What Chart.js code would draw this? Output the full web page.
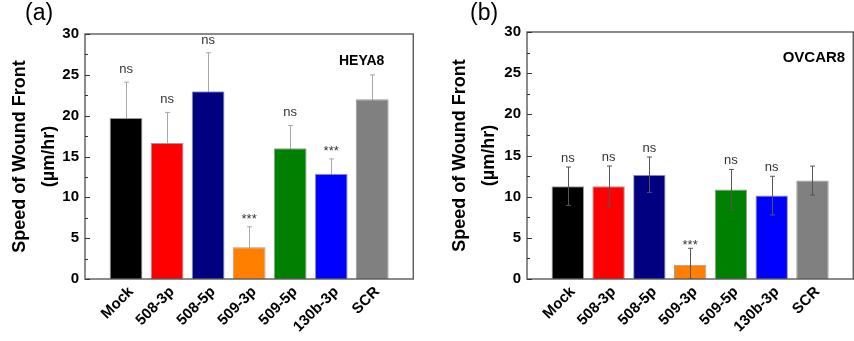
<!DOCTYPE html>
<html><head><meta charset="utf-8">
<script src="https://cdn.jsdelivr.net/npm/chart.js@4/dist/chart.umd.min.js"></script>
<style>
html,body{margin:0;padding:0;background:#fff;overflow:hidden;width:854px;height:341px;}
#wrapA{position:absolute;left:0;top:0;width:430px;height:341px;}
#wrapB{position:absolute;left:430px;top:0;width:440px;height:341px;}
canvas{display:block;}
</style></head><body>
<div id="wrapA"><canvas id="cA" width="430" height="341"></canvas></div>
<div id="wrapB"><canvas id="cB" width="440" height="341"></canvas></div>
<script>
const categories = ['Mock','508-3p','508-5p','509-3p','509-5p','130b-3p','SCR'];
const barColors = ['#000000','#ff0000','#000080','#ff8000','#008000','#0000ff','#808080'];
const heya8Speed = [19.7, 16.65, 23.0, 3.9, 16.0, 12.9, 22.0];
const heya8Error = [4.4, 3.75, 4.7, 2.5, 2.8, 1.8, 3.0];
const heya8Sig = ['ns','ns','ns','***','ns','***',''];
const ovcar8Speed = [11.27, 11.27, 12.67, 1.73, 10.86, 10.13, 11.95];
const ovcar8Error = [2.33, 2.45, 2.15, 2.0, 2.45, 2.35, 1.76];
const ovcar8Sig = ['ns','ns','ns','***','ns','ns',''];
const yMin = 0, yMax = 30, yStep = 5, yMinorStep = 2.5;
const yTitle = ['Speed of Wound Front', '(\u00b5m/hr)'];

const FONT = "'Liberation Sans', Arial, sans-serif";

function drawErrors(chart, o) {
  const ctx = chart.ctx, ys = chart.scales.y, xs = chart.scales.x, a = chart.chartArea;
  ctx.save();
  ctx.beginPath(); ctx.rect(a.left, a.top - 20, a.right - a.left, a.bottom - a.top + 20); ctx.clip();
  ctx.strokeStyle = o.errColor; ctx.lineWidth = 1;
  o.values.forEach((v, i) => {
    const x = Math.round(xs.getPixelForValue(i + 1)) + 0.5;
    const yt = ys.getPixelForValue(v + o.errors[i]);
    const yb = ys.getPixelForValue(Math.max(0, v - o.errors[i]));
    ctx.beginPath();
    ctx.moveTo(x, yt); ctx.lineTo(x, yb);
    ctx.moveTo(x - o.cap, yt); ctx.lineTo(x + o.cap, yt);
    if (o.errFront) { ctx.moveTo(x - o.cap, yb); ctx.lineTo(x + o.cap, yb); }
    ctx.stroke();
  });
  ctx.restore();
}

const panelPlugin = {
  id: 'panel',
  beforeDatasetsDraw(chart, args, o) { if (!o.errFront) drawErrors(chart, o); },
  afterDatasetsDraw(chart, args, o) {
    if (o.errFront) drawErrors(chart, o);
    const ctx = chart.ctx, ys = chart.scales.y, xs = chart.scales.x, a = chart.chartArea;
    ctx.save();
    ctx.strokeStyle = '#5a5a5a'; ctx.lineWidth = 1.4;
    ctx.strokeRect(a.left, a.top, a.right - a.left, a.bottom - a.top);
    ctx.lineWidth = 1; ctx.strokeStyle = '#333';
    for (let v = yMin; v <= yMax + 1e-9; v += yMinorStep) {
      const y = Math.round(ys.getPixelForValue(v)) + 0.5;
      const major = Math.abs(v / yStep - Math.round(v / yStep)) < 1e-9;
      ctx.beginPath(); ctx.moveTo(a.left, y); ctx.lineTo(a.left + (major ? 5 : 3), y); ctx.stroke();
    }
    ctx.fillStyle = '#333'; ctx.textAlign = 'center'; ctx.textBaseline = 'alphabetic';
    ctx.font = '13px ' + FONT;
    o.values.forEach((v, i) => {
      const s = o.sig[i]; if (!s) return;
      const x = xs.getPixelForValue(i + 1);
      const yt = ys.getPixelForValue(v + o.errors[i]);
      ctx.fillText(s, x, yt - (s === 'ns' ? o.nsOff : o.starOff));
    });
    ctx.fillStyle = '#000'; ctx.textAlign = 'left';
    ctx.font = 'bold ' + o.nameSize + 'px ' + FONT;
    ctx.fillText(o.name, o.nameX, o.nameY);
    ctx.font = '23px ' + FONT;
    ctx.fillText(o.letter, o.letterX, 20);
    ctx.restore();
  }
};

function makeChart(id, values, errors, sig, opts) {
  const labels = ['', ...categories, ''];
  const data = [null, ...values, null];
  const colors = ['#fff', ...barColors, '#fff'];
  return new Chart(document.getElementById(id), {
    type: 'bar',
    data: { labels, datasets: [{ data, backgroundColor: colors, borderColor: '#9a9a9a', borderWidth: 1,
      barPercentage: opts.barPct, categoryPercentage: 1 }] },
    plugins: [panelPlugin],
    options: {
      responsive: false, animation: false, events: [],
      layout: { padding: { top: opts.top, right: opts.padRight, left: 0, bottom: 0 } },
      plugins: { legend: { display: false }, tooltip: { enabled: false },
        panel: { values, errors, sig, errFront: opts.errFront, errColor: opts.errColor, cap: opts.cap,
          nsOff: opts.nsOff, starOff: opts.starOff, name: opts.name, nameX: opts.nameX, nameY: opts.nameY,
          nameSize: opts.nameSize, letter: opts.letter, letterX: opts.letterX } },
      scales: {
        x: {
          offset: false,
          grid: { display: false, drawTicks: false },
          border: { display: false },
          ticks: { autoSkip: false, minRotation: 45, maxRotation: 45, padding: 4, labelOffset: 5, color: '#000',
            font: { family: FONT, size: 15, weight: 'bold' } },
          afterFit(s) { s.height = 62; }
        },
        y: {
          min: yMin, max: yMax,
          grid: { display: false, drawTicks: false },
          border: { display: false },
          ticks: { stepSize: yStep, padding: 6, color: '#000', font: { family: FONT, size: 15, weight: 'bold' } },
          title: { display: true, text: yTitle, color: '#000', padding: { top: opts.titlePad, bottom: 0 },
            font: { family: FONT, size: 18, weight: 'bold', lineHeight: 1.6 } },
          afterFit(s) { s.width = opts.yWidth; }
        }
      }
    }
  });
}

makeChart('cA', heya8Speed, heya8Error, heya8Sig, {
  top: 34, padRight: 14, yWidth: 85, titlePad: 5.6, barPct: 0.8,
  errFront: false, errColor: '#a8a8a8', cap: 2.5, nsOff: 9, starOff: 4,
  name: 'HEYA8', nameX: 339, nameY: 65, nameSize: 14, letter: '(a)', letterX: 25
});
makeChart('cB', ovcar8Speed, ovcar8Error, ovcar8Sig, {
  top: 32, padRight: 8, yWidth: 97, titlePad: 15.6, barPct: 0.795,
  errFront: true, errColor: '#555', cap: 2.5, nsOff: 5, starOff: -1,
  name: 'OVCAR8', nameX: 352.7, nameY: 61.5, nameSize: 15, letter: '(b)', letterX: 40
});
</script>
</body></html>
